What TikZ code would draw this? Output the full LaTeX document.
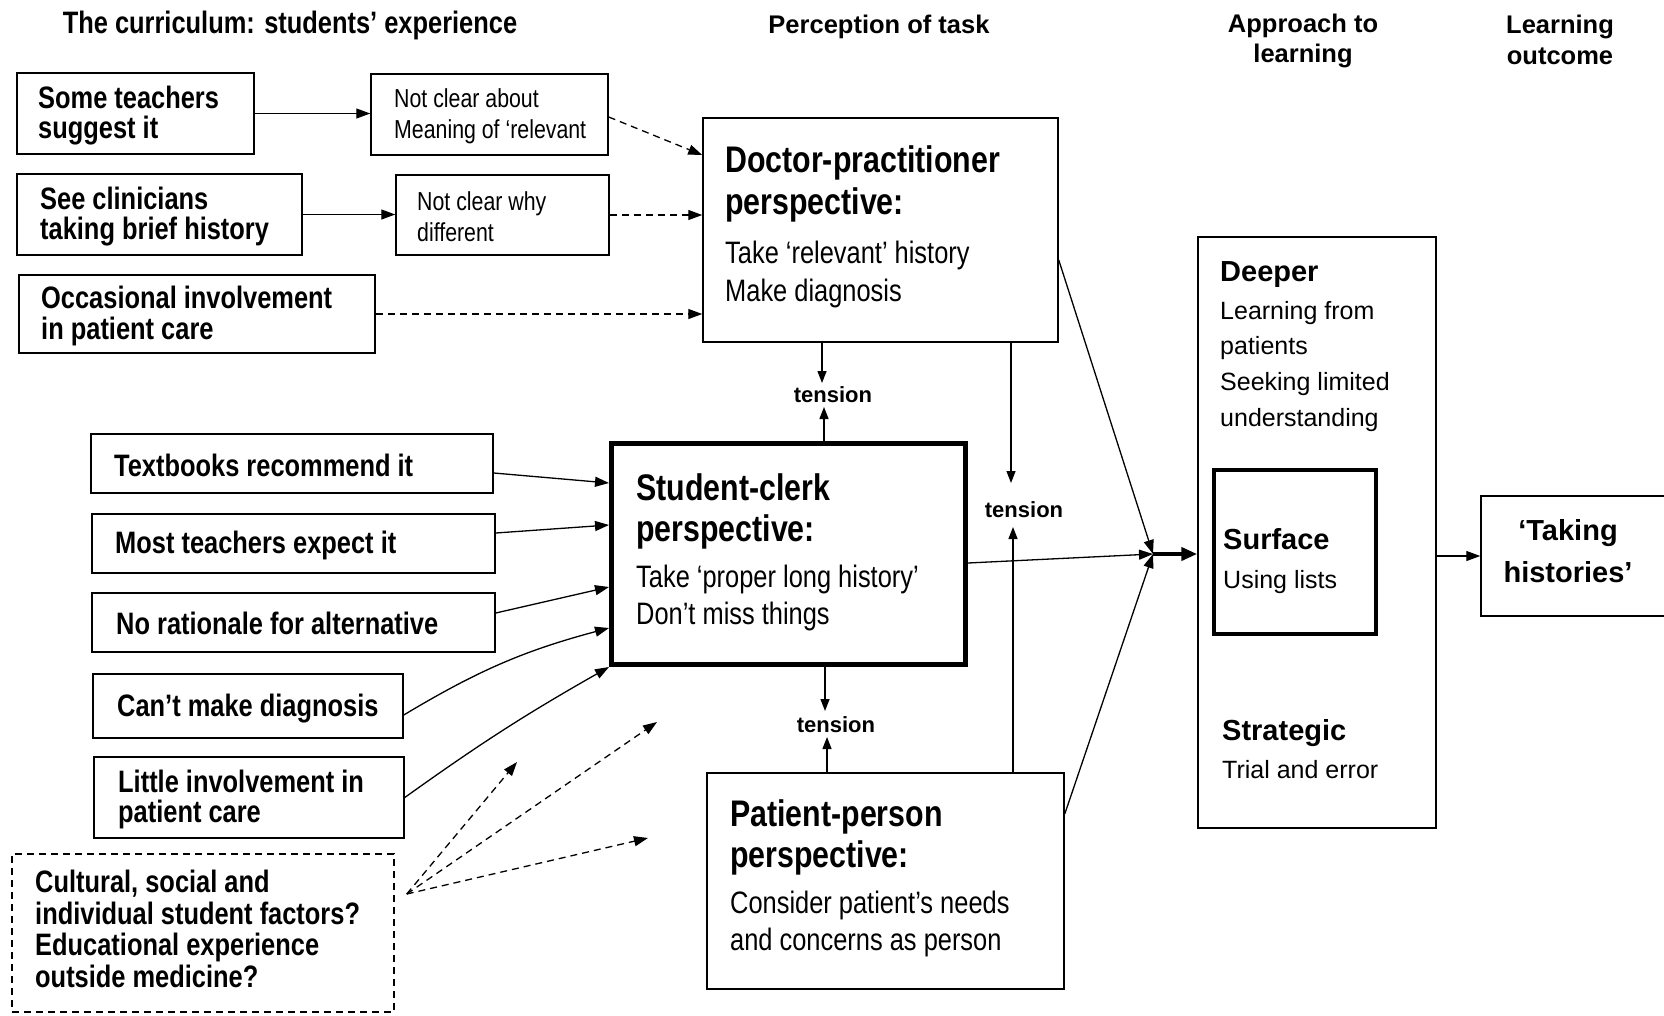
\documentclass[tikz,border=0pt]{standalone}
\usepackage{fontspec}
\setmainfont{Liberation Sans}
\newfontfamily\nf[FakeStretch=0.82]{Liberation Sans}
\newfontfamily\wf{Liberation Sans}
\usetikzlibrary{arrows.meta,calc}

\tikzset{
  box/.style 2 args={draw, line width=1.5pt, inner sep=0pt, minimum width=#1, minimum height=#2},
  heavy/.style={line width=5pt},
  dbox/.style={dash pattern=on 7pt off 5pt},
  txt/.style={inner sep=0pt, align=left, anchor=west},
  ln/.style={inner sep=0pt, anchor=base west},
  sb/.style={font=\nf\bfseries\fontsize{31}{30.5}\selectfont},
  nt/.style={font=\nf\fontsize{26}{31}\selectfont},
  ph/.style={font=\nf\bfseries\fontsize{37}{41}\selectfont},
  pb/.style={font=\nf\fontsize{31}{38}\selectfont},
  wh/.style={font=\wf\bfseries\fontsize{29}{34}\selectfont},
  wb/.style={font=\wf\fontsize{25}{34}\selectfont},
  colhead/.style={font=\wf\bfseries\fontsize{25.5}{30}\selectfont, inner sep=0pt, anchor=base},
  tens/.style={font=\wf\bfseries\fontsize{22}{26}\selectfont, inner sep=0pt, anchor=base},
  arr/.style={line width=1.3pt, -{Triangle[length=14pt,width=10pt]}},
  darr/.style={arr, dash pattern=on 7pt off 5pt},
  tarr/.style={line width=1.3pt, -{Triangle[length=12pt,width=9pt]}},
}

\begin{document}
\begin{tikzpicture}[x=1pt,y=-1pt]
\useasboundingbox (0,0) rectangle (1664,1015);
\fill[white] (0,0) rectangle (1664,1015);

% column headings
\node[sb, inner sep=0pt, anchor=base] (h1) at (290,33) {The curriculum: students’ experience};
\node[colhead] (h2) at (879,33) {Perception of task};
\node[colhead] (h3a) at (1303,32) {Approach to};
\node[colhead] (h3b) at (1303,62) {learning};
\node[colhead] (h4a) at (1560,33) {Learning};
\node[colhead] (h4b) at (1560,64) {outcome};

% curriculum experiences (top group)
\node[box={237pt}{81pt}] (st) at (135.5,113.5) {};
\node[txt, sb] (st-t) at (38,115.5) {Some teachers\\suggest it};
\node[box={237pt}{81pt}] (nc1) at (489.5,114.5) {};
\node[txt, nt] (nc1-t) at (394,116) {Not clear about\\Meaning of ‘relevant};
\node[box={285pt}{81pt}] (sc) at (159.5,214.5) {};
\node[txt, sb] (sc-t) at (40,216.5) {See clinicians\\taking brief history};
\node[box={213pt}{80pt}] (nc2) at (502.5,215) {};
\node[txt, nt] (nc2-t) at (417,216.5) {Not clear why\\different};
\node[box={356pt}{78pt}] (oc) at (197,314) {};
\node[txt, sb] (oc-t) at (41,316) {Occasional involvement\\in patient care};

% curriculum experiences (lower group)
\node[box={402pt}{59pt}] (tb) at (292,463.5) {};
\node[txt, sb] (tb-t) at (114,465) {Textbooks recommend it};
\node[box={403pt}{59pt}] (mt) at (293.5,543.5) {};
\node[txt, sb] (mt-t) at (115,545.5) {Most teachers expect it};
\node[box={403pt}{59pt}] (nr) at (293.5,622.5) {};
\node[txt, sb] (nr-t) at (116,623.5) {No rationale for alternative};
\node[box={310pt}{64pt}] (cm) at (248,706) {};
\node[txt, sb] (cm-t) at (117,709) {Can’t make diagnosis};
\node[box={310pt}{81pt}] (li) at (249,797.5) {};
\node[txt, sb] (li-t) at (118,799.5) {Little involvement in\\patient care};
\node[box={382pt}{158pt}, dbox] (cu) at (203,933) {};
\node[txt, font=\nf\bfseries\fontsize{31}{31.5}\selectfont] (cu-t) at (35,929)
  {Cultural, social and\\individual student factors?\\Educational experience\\outside medicine?};

% perception of task
\node[box={355pt}{224pt}] (dp) at (880.5,230) {};
\node[ln, ph] (dp-1) at (725,172) {Doctor-practitioner};
\node[ln, ph] (dp-2) at (725,214) {perspective:};
\node[ln, pb] (dp-3) at (725,263) {Take ‘relevant’ history};
\node[ln, pb] (dp-4) at (725,301) {Make diagnosis};

\node[box={354pt}{221pt}, heavy] (sk) at (788.5,554) {};
\node[ln, ph] (sk-1) at (636,500) {Student-clerk};
\node[ln, ph] (sk-2) at (636,541) {perspective:};
\node[ln, pb] (sk-3) at (636,587) {Take ‘proper long history’};
\node[ln, pb] (sk-4) at (636,624) {Don’t miss things};

\node[box={357pt}{216pt}] (pp) at (885.5,881) {};
\node[ln, ph] (pp-1) at (730,826) {Patient-person};
\node[ln, ph] (pp-2) at (730,867) {perspective:};
\node[ln, pb] (pp-3) at (730,913) {Consider patient’s needs};
\node[ln, pb] (pp-4) at (730,950) {and concerns as person};

% approach to learning
\node[box={238pt}{591pt}] (ap) at (1317,532.5) {};
\node[ln, wh] (ap-1) at (1220,281) {Deeper};
\node[ln, wb] (ap-2) at (1220,319) {Learning from};
\node[ln, wb] (ap-3) at (1220,354) {patients};
\node[ln, wb] (ap-4) at (1220,390) {Seeking limited};
\node[ln, wb] (ap-5) at (1220,426) {understanding};
\node[ln, wh] (ap-6) at (1222,740) {Strategic};
\node[ln, wb] (ap-7) at (1222,778) {Trial and error};
\node[box={162pt}{164pt}, line width=4pt] (sf) at (1295,552) {};
\node[ln, wh] (sf-1) at (1223,549) {Surface};
\node[ln, wb] (sf-2) at (1223,588) {Using lists};

% learning outcome
\node[box={219pt}{120pt}] (th) at (1590.5,556) {};
\node[wh, inner sep=0pt, anchor=base] (th-1) at (1568,540) {‘Taking};
\node[wh, inner sep=0pt, anchor=base] (th-2) at (1568,582) {histories’};

% top group connectors
\draw[arr] (st.east) -- (st.east -| nc1.west);
\draw[arr] (sc.east) -- (sc.east -| nc2.west);
\draw[darr] ($(nc1.east)+(0,2.5)$) -- ($(dp.west)+(0,-75)$);
\draw[darr] (nc2.east) -- (nc2.east -| dp.west);
\draw[darr] (oc.east) -- (oc.east -| dp.west);

% lower group connectors into the student-clerk box
\draw[arr] ($(tb.east)+(0,9.5)$) -- ($(sk.west)+(0,-71)$);
\draw[arr] ($(mt.east)+(0,-10.5)$) -- ($(sk.west)+(0,-29)$);
\draw[arr] ($(nr.east)+(0,-9.5)$) -- ($(sk.west)+(0,33)$);
\draw[arr] ($(cm.east)+(0,9)$) to[bend left=8] ($(sk.west)+(0,74)$);
\draw[arr] (li.east) to[bend left=3] (sk.south west);

% open-ended influences
\coordinate (co) at ($(cu.east)+(12,-39)$);
\coordinate (d1) at (517,762);
\coordinate (d2) at (657,722);
\coordinate (d3) at (648,838);
\draw[darr] (co) -- (d1);
\draw[darr] (co) -- (d2);
\draw[darr] (co) -- (d3);

% tensions between perspectives
\node[tens] (t1) at (833,402) {tension};
\coordinate (t1a) at (822,383);
\coordinate (t1b) at (824,407);
\draw[tarr] (dp.south -| t1a) -- (t1a);
\draw[tarr] (sk.north -| t1b) -- (t1b);

\node[tens] (t2) at (1024,517) {tension};
\coordinate (t2a) at (1011,483);
\coordinate (t2b) at (1013,527);
\draw[tarr] (dp.south -| t2a) -- (t2a);
\draw[tarr] (pp.north -| t2b) -- (t2b);

\node[tens] (t3) at (836,732) {tension};
\coordinate (t3a) at (825,711);
\coordinate (t3b) at (827,737);
\draw[tarr] (sk.south -| t3a) -- (t3a);
\draw[tarr] (pp.north -| t3b) -- (t3b);

% perspectives converge on the approach to learning
\coordinate (cv) at (1153,554);
\draw[arr] ($(dp.east)+(0,30)$) -- (cv);
\draw[arr] ($(sk.east)+(0,9)$) -- (cv);
\draw[arr] ($(pp.east)+(0,-67)$) -- (cv);
\draw[line width=4pt, -{Triangle[length=16pt,width=13pt]}] (cv) -- (cv -| ap.west);
\draw[arr] (ap.east |- th.west) -- (th.west);
\end{tikzpicture}
\end{document}
